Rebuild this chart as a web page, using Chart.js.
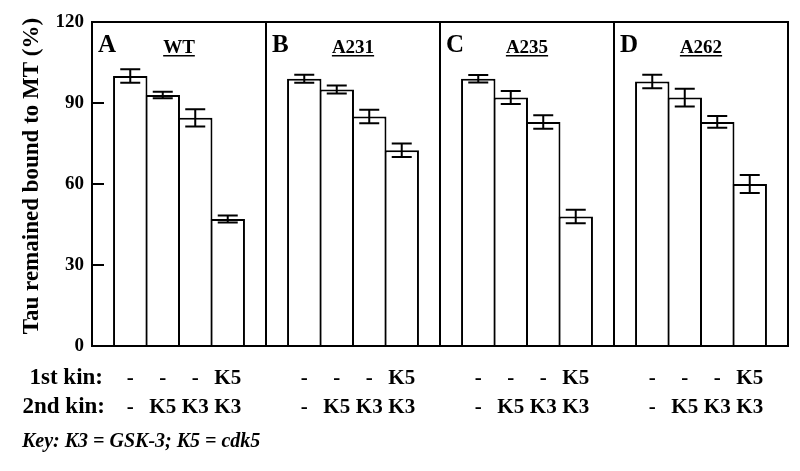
<!DOCTYPE html>
<html>
<head>
<meta charset="utf-8">
<script src="https://cdn.jsdelivr.net/npm/chart.js@4"></script>
<style>
    body { margin: 0; background: #fff; }
    #wrap { position: relative; width: 800px; height: 471px; }
</style>
</head>
<body>
<div id="wrap"><canvas id="tauChart"></canvas></div>
<script>
// Panels (Tau constructs) and treatments
const panelLetters = ['A', 'B', 'C', 'D'];
const panelNames = ['WT', 'A231', 'A235', 'A262'];
const firstKin = ['-', '-', '-', 'K5'];
const secondKin = ['-', 'K5', 'K3', 'K3'];
const yTicks = [0, 30, 60, 90, 120];

// % Tau remained bound to MT, one array per panel (bar order as in treatments)
const wtMeans = [100, 93, 84.5, 47];
const wtErrors = [2.5, 1.2, 3.2, 1.3];
const a231Means = [99, 95, 85, 72.5];
const a231Errors = [1.5, 1.5, 2.5, 2.5];
const a235Means = [99, 92, 83, 48];
const a235Errors = [1.4, 2.4, 2.5, 2.5];
const a262Means = [98, 92, 83, 60];
const a262Errors = [2.5, 3.3, 2.2, 3.3];

const allMeans = [wtMeans, a231Means, a235Means, a262Means];
const allErrors = [wtErrors, a231Errors, a235Errors, a262Errors];

const SERIF = "'Liberation Serif', 'Times New Roman', serif";

// one dataset per bar position, spread across the four panels
const datasets = firstKin.map((k, t) => ({
    label: firstKin[t] + ' / ' + secondKin[t],
    data: allMeans.map(m => m[t]),
    errors: allErrors.map(e => e[t]),
    backgroundColor: '#ffffff',
    borderColor: '#000000',
    borderWidth: 2,
    barPercentage: 1.06,
    categoryPercentage: 0.747
}));

const decorPlugin = {
    id: 'decor',
    afterDatasetsDraw(chart) {
        const { ctx, chartArea: area, scales: { x, y } } = chart;
        ctx.save();
        ctx.strokeStyle = '#000';
        ctx.fillStyle = '#000';
        ctx.lineWidth = 2;

        // error bars
        chart.data.datasets.forEach((ds, di) => {
            chart.getDatasetMeta(di).data.forEach((bar, i) => {
                const hi = y.getPixelForValue(ds.data[i] + ds.errors[i]);
                const lo = y.getPixelForValue(ds.data[i] - ds.errors[i]);
                ctx.beginPath();
                ctx.moveTo(bar.x, hi); ctx.lineTo(bar.x, lo);
                ctx.moveTo(bar.x - 10, hi); ctx.lineTo(bar.x + 10, hi);
                ctx.moveTo(bar.x - 10, lo); ctx.lineTo(bar.x + 10, lo);
                ctx.stroke();
            });
        });

        // frame and panel dividers
        ctx.strokeRect(area.left, area.top, area.width, area.height);
        ctx.beginPath();
        for (let i = 1; i < panelNames.length; i++) {
            const xb = Math.round((x.getPixelForValue(i - 1) + x.getPixelForValue(i)) / 2);
            ctx.moveTo(xb, area.top); ctx.lineTo(xb, area.bottom);
        }
        // inward y ticks
        yTicks.forEach(v => {
            const py = Math.round(y.getPixelForValue(v));
            ctx.moveTo(area.left, py); ctx.lineTo(area.left + 12, py);
        });
        ctx.stroke();

        // y axis title
        ctx.save();
        ctx.translate(32, 176);
        ctx.rotate(-Math.PI / 2);
        ctx.font = 'bold 23px ' + SERIF;
        ctx.textAlign = 'center';
        ctx.textBaseline = 'middle';
        ctx.fillText('Tau remained bound to MT (%)', 0, 0);
        ctx.restore();

        // panel letters and underlined titles
        ctx.textBaseline = 'alphabetic';
        panelNames.forEach((name, i) => {
            const cx = x.getPixelForValue(i);
            const left = cx - x.width / panelNames.length / 2;
            ctx.font = 'bold 25px ' + SERIF;
            ctx.textAlign = 'left';
            ctx.fillText(panelLetters[i], left + 6, area.top + 30);
            ctx.font = 'bold 19px ' + SERIF;
            ctx.textAlign = 'center';
            ctx.fillText(name, cx, area.top + 31);
            const w = ctx.measureText(name).width;
            ctx.fillRect(cx - w / 2, area.top + 33, w, 1.5);
        });

        // kinase rows under each bar
        ctx.font = 'bold 23px ' + SERIF;
        ctx.textAlign = 'right';
        ctx.fillText('1st kin:', 103, area.bottom + 38);
        ctx.fillText('2nd kin:', 105, area.bottom + 67);
        ctx.font = 'bold 21px ' + SERIF;
        ctx.textAlign = 'center';
        chart.data.datasets.forEach((ds, di) => {
            chart.getDatasetMeta(di).data.forEach(bar => {
                ctx.fillText(firstKin[di], bar.x, area.bottom + 38);
                ctx.fillText(secondKin[di], bar.x, area.bottom + 67);
            });
        });

        // key
        ctx.font = 'italic bold 20px ' + SERIF;
        ctx.textAlign = 'left';
        ctx.fillText('Key: K3 = GSK-3; K5 = cdk5', 22, area.bottom + 101);
        ctx.restore();
    }
};

new Chart(document.getElementById('tauChart'), {
    type: 'bar',
    data: { labels: panelNames, datasets: datasets },
    options: {
        responsive: true,
        maintainAspectRatio: false,
        animation: false,
        layout: { padding: { top: 22, right: 12, bottom: 125, left: 0 } },
        plugins: { legend: { display: false }, tooltip: { enabled: false } },
        scales: {
            x: { display: false },
            y: {
                min: 0,
                max: 120,
                afterBuildTicks: scale => { scale.ticks = yTicks.map(v => ({ value: v })); },
                afterFit: scale => { scale.width = 92; },
                grid: { display: false, drawTicks: false },
                border: { display: false },
                ticks: { color: '#000', padding: 8, font: { family: SERIF, size: 19, weight: 'bold' } },
                title: { display: false }
            }
        }
    },
    plugins: [decorPlugin]
});
</script>
</body>
</html>
